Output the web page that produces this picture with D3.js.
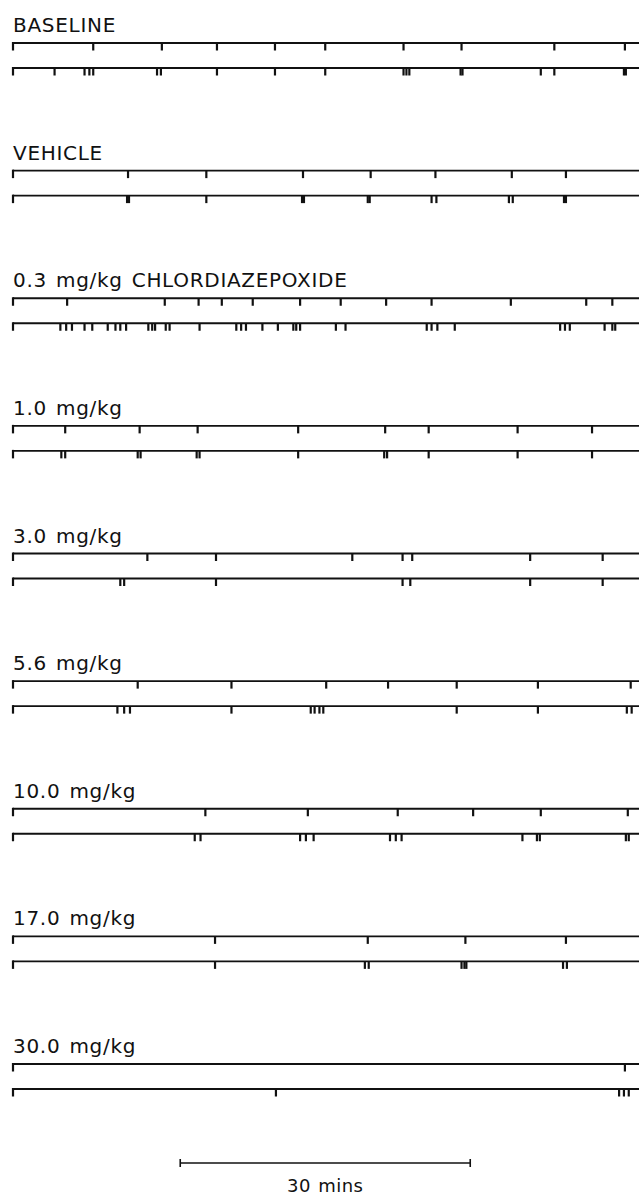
<!DOCTYPE html>
<html><head><meta charset="utf-8">
<script src="https://cdn.jsdelivr.net/npm/d3@7"></script>
<style>html,body{margin:0;padding:0;background:#fff}svg{display:block}</style>
</head><body>
<script>
// Row labels
const labels = ["BASELINE","VEHICLE","0.3 mg/kg CHLORDIAZEPOXIDE","1.0 mg/kg","3.0 mg/kg","5.6 mg/kg","10.0 mg/kg","17.0 mg/kg","30.0 mg/kg"];
// Event times (minutes) on upper pen
const topEvents = [
  [8.3,15.4,21.1,27.1,32.3,40.4,46.4,56.0,63.3],
  [11.9,20.0,30.0,37.0,43.7,51.6,57.2],
  [5.6,15.7,19.2,21.6,24.8,29.7,33.9,38.6,43.3,51.5,59.3,62.0],
  [5.4,13.1,19.1,29.5,38.5,43.0,52.2,59.9],
  [13.9,21.0,35.1,40.3,41.3,53.5,61.0],
  [12.9,22.6,32.4,38.8,45.9,54.3,63.9],
  [19.9,30.5,39.8,47.6,54.6,63.6],
  [20.9,36.7,46.8,57.2],
  [63.3]
];
// Event times (minutes) on lower pen
const bottomEvents = [
  [4.3,7.4,7.9,8.3,14.9,15.3,21.1,27.1,32.3,40.4,40.7,41.0,46.3,46.5,54.6,56.0,63.2,63.4],
  [11.8,12.0,20.0,29.9,30.1,36.7,36.9,43.3,43.8,51.3,51.7,57.0,57.2],
  [4.9,5.5,6.1,7.4,8.2,9.8,10.6,11.1,11.7,14.0,14.4,14.7,15.8,16.2,19.3,23.1,23.6,24.1,25.8,27.4,29.0,29.3,29.7,33.4,34.4,42.8,43.3,43.9,45.7,56.6,57.1,57.6,61.2,62.0,62.3],
  [5.0,5.4,12.9,13.2,19.0,19.3,29.5,38.4,38.7,43.0,52.2,59.9],
  [11.1,11.5,21.0,40.3,41.1,53.5,61.0],
  [10.8,11.5,12.1,22.6,30.8,31.2,31.7,32.1,45.9,54.3,63.5,64.0],
  [18.8,19.4,29.7,30.3,31.1,39.0,39.6,40.2,52.7,54.2,54.5,63.4,63.7],
  [20.9,36.4,36.8,46.4,46.7,46.9,56.9,57.3],
  [27.2,62.7,63.2,63.7]
];
const sessionLength = 65; // minutes shown
const scaleBarMinutes = 30;
const scaleBarStart = 17.3;
const scaleBarLabel = "30 mins";

const W = 639, H = 1201;
const svg = d3.select("body").append("svg").attr("width", W).attr("height", H);
const x = d3.scaleLinear().domain([0, sessionLength]).range([13, 13 + sessionLength * 290 / 30]);
const rowY = d3.scaleLinear().domain([0, labels.length - 1]).range([43, 1064]);
const penGap = 25, tickLen = 7.5;
const font = "'DejaVu Sans', sans-serif";

labels.forEach((lab, i) => {
  const g = svg.append("g");
  const y0 = rowY(i), y1 = y0 + penGap;
  g.append("text").attr("x", 13).attr("y", y0 - 11)
    .attr("font-family", font).attr("font-size", 20)
    .attr("letter-spacing", 0.7).attr("word-spacing", 2)
    .attr("fill", "#111").text(lab);
  [[y0, topEvents[i]], [y1, bottomEvents[i]]].forEach(([yy, ev]) => {
    g.append("line").attr("x1", x(0)).attr("x2", W).attr("y1", yy).attr("y2", yy)
      .attr("stroke", "#111").attr("stroke-width", 1.9);
    g.append("line").attr("x1", x(0)).attr("x2", x(0)).attr("y1", yy - 1).attr("y2", yy + tickLen)
      .attr("stroke", "#111").attr("stroke-width", 2.2);
    g.selectAll(null).data(ev).enter().append("line")
      .attr("x1", d => x(d)).attr("x2", d => x(d))
      .attr("y1", yy).attr("y2", yy + tickLen)
      .attr("stroke", "#111").attr("stroke-width", 2.2);
  });
});

// scale bar
const sbY = 1163;
const xs0 = x(scaleBarStart), xs1 = x(scaleBarStart + scaleBarMinutes);
svg.append("line").attr("x1", xs0).attr("x2", xs1).attr("y1", sbY).attr("y2", sbY).attr("stroke", "#111").attr("stroke-width", 1.6);
[xs0, xs1].forEach(v => svg.append("line").attr("x1", v).attr("x2", v).attr("y1", sbY - 4).attr("y2", sbY + 4).attr("stroke", "#111").attr("stroke-width", 1.6));
svg.append("text").attr("x", (xs0 + xs1) / 2).attr("y", sbY + 29).attr("text-anchor", "middle")
  .attr("font-family", font).attr("font-size", 18).attr("letter-spacing", 0.5).attr("word-spacing", 1)
  .attr("fill", "#111").text(scaleBarLabel);
</script>
</body></html>
